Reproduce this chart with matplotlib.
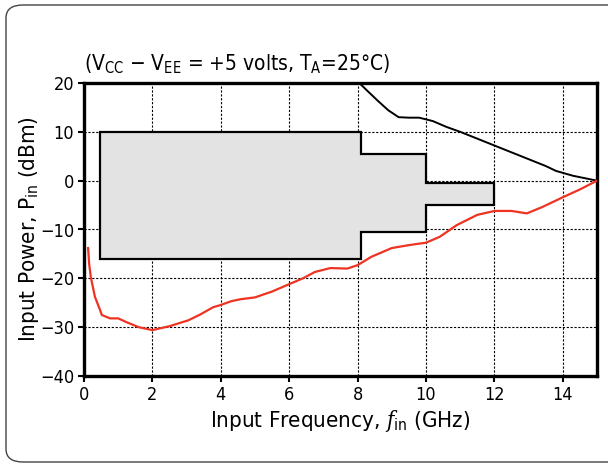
import numpy as np
import matplotlib
matplotlib.use('Agg')
from matplotlib import pyplot as plt
from matplotlib.patches import FancyBboxPatch

plt.rcParams['font.family'] = 'DejaVu Sans'
plt.rcParams['font.stretch'] = 'condensed'
plt.rcParams['mathtext.fontset'] = 'custom'
plt.rcParams['mathtext.rm'] = 'DejaVu Sans:stretch=condensed'
plt.rcParams['mathtext.it'] = 'DejaVu Serif:italic:stretch=condensed'

# upper limit curve (black)
upper_freq = [8.05, 8.3, 8.6, 8.9, 9.2, 9.5, 9.8, 10.2, 10.6, 11.0, 11.5, 12.0, 12.5, 13.0, 13.5, 13.8, 14.3, 15.0]
upper_pin = [20.0, 18.3, 16.3, 14.4, 13.0, 12.9, 12.9, 12.2, 11.0, 10.0, 8.6, 7.2, 5.8, 4.4, 3.0, 2.0, 1.0, 0.0]

# minimum input power (red)
lower_freq = [0.12, 0.15, 0.2, 0.32, 0.47, 0.52, 0.76, 1.0, 1.25, 1.6, 2.0, 2.5, 3.05, 3.4, 3.78, 3.98,
              4.3, 4.56, 5.0, 5.5, 5.93, 6.4, 6.75, 7.2, 7.7, 8.0, 8.4, 9.0, 9.5, 10.0, 10.4, 10.9,
              11.5, 12.0, 12.5, 12.95, 13.4, 14.0, 14.5, 15.0]
lower_pin = [-13.8, -17.0, -19.8, -23.8, -26.5, -27.5, -28.2, -28.2, -29.0, -30.0, -30.6, -29.8, -28.6,
             -27.4, -25.9, -25.5, -24.7, -24.3, -23.9, -22.7, -21.4, -20.0, -18.7, -17.9, -18.0, -17.3,
             -15.6, -13.8, -13.2, -12.7, -11.5, -9.1, -7.0, -6.2, -6.2, -6.7, -5.4, -3.4, -1.8, 0.0]

# operating region outline
region_freq = [0.47, 8.1, 8.1, 10.0, 10.0, 12.0, 12.0, 10.0, 10.0, 8.1, 8.1, 0.47, 0.47]
region_pin = [10.0, 10.0, 5.5, 5.5, -0.5, -0.5, -5.0, -5.0, -10.5, -10.5, -16.0, -16.0, 10.0]

fig = plt.figure(figsize=(6.08, 4.65), dpi=100)
frame = FancyBboxPatch((6 / 608, 3 / 465), 620 / 608, 457 / 465,
                       boxstyle='round,pad=0,rounding_size=0.028', transform=fig.transFigure,
                       facecolor='none', edgecolor='#444444', linewidth=1.0, clip_on=False)
fig.patches.append(frame)

ax = fig.add_axes([84 / 608, 1 - 376 / 465, (597 - 84) / 608, (376 - 83) / 465])

ax.fill(region_freq, region_pin, facecolor='#e3e3e3', edgecolor='black', linewidth=1.6, zorder=2)
ax.plot(upper_freq, upper_pin, color='black', linewidth=1.4, zorder=3)
ax.plot(lower_freq, lower_pin, color='#ee3322', linewidth=1.6, zorder=3)

ax.set_xlim(0, 15)
ax.set_ylim(-40, 20)
ax.set_xticks(np.arange(0, 15, 2))
ax.set_yticks(np.arange(-40, 21, 10))
ax.set_yticklabels(['\u221240', '\u221230', '\u221220', '\u221210', '0', '10', '20'])
ax.grid(True, color='black', linestyle=(0, (2, 1.5)), linewidth=0.8, zorder=1)
ax.set_axisbelow(True)
for s in ax.spines.values():
    s.set_linewidth(2.4)
ax.tick_params(direction='out', length=4, width=1.5, labelsize=13, pad=3)

ax.set_xlabel('Input Frequency, $\\mathit{f}_{\\rm in}$ (GHz)', fontsize=16, labelpad=3)
ax.set_ylabel('Input Power, P$_{\\rm in}$ (dBm)', fontsize=16, labelpad=-1)
ax.text(0.0, 1.025, '(V$_{\\rm CC}$ \u2212 V$_{\\rm EE}$ = +5 volts, T$_{\\rm A}$=25\u00b0C)',
        transform=ax.transAxes, fontsize=15, ha='left', va='bottom')

fig.savefig('out.png', dpi=100)
plt.close(fig)
